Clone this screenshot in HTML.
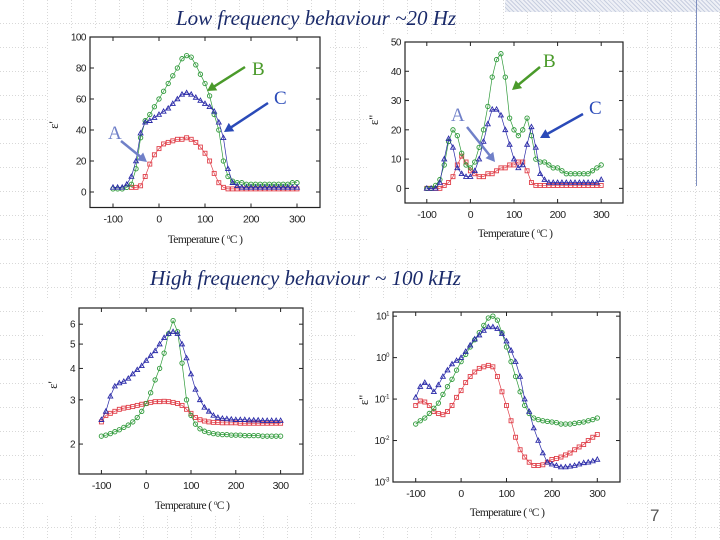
<!DOCTYPE html>
<html><head><meta charset="utf-8"><style>
html,body{margin:0;padding:0}
body{width:720px;height:540px;position:relative;overflow:hidden;background-color:#fff;
background-image:repeating-linear-gradient(90deg,transparent 0 23px,rgba(255,255,255,0) 23px,transparent 24px);
font-family:"Liberation Sans",sans-serif}
.title{position:absolute;font-family:"Liberation Serif",serif;font-style:italic;color:#1a2a6a;font-size:21px;white-space:nowrap}
svg{position:absolute;left:0;top:0}
</style></head><body>
<svg width="720" height="540" style="position:absolute;left:0;top:0">
<defs><pattern id="gp" width="24" height="24" patternUnits="userSpaceOnUse"><path d="M23.5 0V24M0 23.5H24" stroke="#d8d8d8" stroke-width="1" stroke-dasharray="1 2" fill="none"/></pattern></defs>
<rect width="720" height="540" fill="url(#gp)"/></svg>
<div style="position:absolute;left:505px;top:0;width:215px;height:12px;background:repeating-linear-gradient(45deg,#c8cfe0 0 1px,#eef0f6 1px 3px)"></div>
<div style="position:absolute;left:696px;top:0;width:1px;height:186px;background:#8090c0"></div>
<div style="position:absolute;left:48px;top:30px;width:282px;height:220px;background:#fff"></div>
<div style="position:absolute;left:368px;top:35px;width:258px;height:212px;background:#fff"></div>
<div style="position:absolute;left:45px;top:298px;width:262px;height:218px;background:#fff"></div>
<div style="position:absolute;left:355px;top:298px;width:272px;height:228px;background:#fff"></div>
<div class="title" style="left:176px;top:6px">Low frequency behaviour ~20 Hz</div>
<div class="title" style="left:150px;top:266px">High frequency behaviour ~ 100 kHz</div>
<div style="position:absolute;left:650px;top:506px;font-size:17px;color:#555">7</div>
<svg id="svg" width="720" height="540"></svg>
<script>
// shared temperature grid (°C)
const temps = [-100,-90,-80,-70,-60,-50,-40,-30,-20,-10,0,10,20,30,40,50,60,70,80,90,100,110,120,130,140,150,160,170,180,190,200,210,220,230,240,250,260,270,280,290,300];
const redTemps1 = temps.slice(4);
// Plot 1: low frequency eps'
const p1Green = [2,2,2,3,5,15,35,46,50,55,60,65,70,75,80,86,88,87,82,76,70,62,50,40,20,10,7,6,6,5,5,5,5,5,5,5,5,5,5,6,6];
const p1Blue  = [3,3,3,5,10,20,38,45,46,48,50,52,54,57,60,63,64,63,61,59,57,55,52,45,35,15,6,4,3,3,3,3,3,3,3,3,3,3,3,3,3];
const p1Red   = [3,3,4,10,18,24,28,31,32,33,34,34,35,34,32,29,25,20,12,6,3,2,2,2,2,2,2,2,2,2,2,2,2,2,2,2,2];
// Plot 2: low frequency eps''
const p2Green = [0,0,1,3,8,16,20,18,12,8,7,9,14,20,28,38,44,46,38,24,20,18,20,24,18,10,9,9,8,7,7,6,5,5,5,5,5,5,6,7,8];
const p2Blue  = [0,0,0,2,10,17,14,7,5,4,4,6,10,16,22,27,27,25,20,15,10,7,8,15,21,14,5,3,2,2,2,2,2,2,2,2,2,2,2,2,3];
const p2Red   = [0,0,0,0,1,2,4,8,11,9,6,5,4,4,5,5,6,7,7,8,8,9,9,6,2,1,1,1,1,1,1,1,1,1,1,1,1,1,1,1,1];
// Plot 3: high frequency eps' (log axis)
const p3Green = [2.15,2.17,2.2,2.24,2.28,2.33,2.38,2.45,2.55,2.7,2.9,3.2,3.6,4.0,4.6,5.5,6.2,5.6,4.2,3.0,2.6,2.4,2.3,2.25,2.22,2.2,2.19,2.18,2.18,2.17,2.17,2.17,2.16,2.16,2.16,2.16,2.15,2.15,2.15,2.15,2.15];
const p3Blue  = [2.5,2.7,3.1,3.4,3.5,3.55,3.65,3.8,3.95,4.1,4.3,4.5,4.7,5.0,5.3,5.5,5.6,5.5,5.0,4.4,3.8,3.3,3.0,2.8,2.7,2.6,2.55,2.53,2.52,2.51,2.5,2.5,2.5,2.49,2.49,2.49,2.48,2.48,2.48,2.48,2.48];
const p3Red   = [2.45,2.6,2.65,2.7,2.75,2.78,2.8,2.82,2.85,2.88,2.9,2.93,2.95,2.95,2.96,2.95,2.93,2.9,2.85,2.75,2.65,2.55,2.5,2.47,2.45,2.44,2.44,2.43,2.43,2.43,2.43,2.42,2.42,2.42,2.42,2.42,2.42,2.42,2.42,2.42,2.42];
// Plot 4: high frequency eps'' (log axis)
const p4Green = [0.025,0.03,0.035,0.045,0.06,0.08,0.13,0.2,0.3,0.5,0.8,1.2,1.8,2.7,4,6,9,10,8,4,1.8,0.8,0.35,0.15,0.07,0.045,0.035,0.032,0.03,0.029,0.028,0.027,0.025,0.025,0.025,0.026,0.027,0.028,0.03,0.032,0.035];
const p4Blue  = [0.11,0.2,0.25,0.2,0.15,0.22,0.35,0.5,0.7,0.85,1.0,1.4,2,2.8,3.5,4.5,5.5,5.5,5,3.8,2.5,1.5,0.8,0.35,0.1,0.05,0.02,0.01,0.005,0.003,0.0027,0.0025,0.0023,0.0023,0.0024,0.0025,0.0027,0.0029,0.003,0.0032,0.0035];
const p4Red   = [0.07,0.09,0.085,0.07,0.05,0.045,0.042,0.05,0.07,0.11,0.16,0.25,0.35,0.45,0.55,0.6,0.65,0.6,0.35,0.15,0.07,0.03,0.012,0.006,0.004,0.003,0.0025,0.0025,0.0026,0.003,0.0035,0.0037,0.004,0.0045,0.005,0.006,0.007,0.008,0.01,0.012,0.014];
const xTicks = [-100,0,100,200,300];
const p1YTicks = [0,20,40,60,80,100];
const p2YTicks = [0,10,20,30,40,50];
const p3YTicks = [2,3,4,5,6];
const p4YTicks = [10,1,0.1,0.01,0.001];
const p4YLabels = ["1","0","-1","-2","-3"];

const NS="http://www.w3.org/2000/svg", svg=document.getElementById('svg');
function mk(tag,attrs,parent){const e=document.createElementNS(NS,tag);for(const k in attrs)e.setAttribute(k,attrs[k]);(parent||svg).appendChild(e);return e;}
const COL={red:'#e0404a',green:'#2f9a3a',blue:'#2a2aa8'};

function plot(cfg){
  const g=mk('g',{});
  
  
  const X=v=>cfg.x0+(v-cfg.xmin)*(cfg.x1-cfg.x0)/(cfg.xmax-cfg.xmin);
  const f=cfg.log?Math.log10:(v=>v);
  const Y=v=>cfg.yb-(f(v)-f(cfg.ymin))*(cfg.yb-cfg.yt)/(f(cfg.ymax)-f(cfg.ymin));
  const fr=mk('rect',{x:cfg.x0,y:cfg.yt,width:cfg.x1-cfg.x0,height:cfg.yb-cfg.yt,fill:'none',stroke:'#222','stroke-width':1.2},g);
  
  
  xTicks.forEach(t=>{
    const x=X(t);
    mk('line',{x1:x,x2:x,y1:cfg.yb,y2:cfg.yb-4,stroke:'#222'},g);
    mk('line',{x1:x,x2:x,y1:cfg.yt,y2:cfg.yt+4,stroke:'#222'},g);
    const tx=mk('text',{x:x,y:cfg.yb+15,'font-size':10.5,'text-anchor':'middle',fill:'#222','letter-spacing':'-0.5'},g);
    tx.textContent=t;
    
    
  });
  cfg.yticks.forEach((t,i)=>{
    const y=Y(t);
    mk('line',{x1:cfg.x0,x2:cfg.x0+4,y1:y,y2:y,stroke:'#222'},g);
    mk('line',{x1:cfg.x1,x2:cfg.x1-4,y1:y,y2:y,stroke:'#222'},g);
    const tx=mk('text',{x:cfg.x0-4,y:y+3.5,'font-size':10,'text-anchor':'end',fill:'#222','letter-spacing':'-0.5'},g);
    if(cfg.ylabels){tx.textContent='10';const s=mk('tspan',{dy:-4,'font-size':6},tx);s.textContent=cfg.ylabels[i];}
    else tx.textContent=t;
    
    
  });
  const xl=mk('text',{x:cfg.xlx,y:cfg.xly,'font-size':11.5,'text-anchor':'middle',fill:'#222','font-family':'Liberation Serif, serif','letter-spacing':'-0.6'},g);
  xl.textContent='Temperature ( ';const sp=mk('tspan',{dy:-4,'font-size':7},xl);sp.textContent='o';const sp2=mk('tspan',{dy:4},xl);sp2.textContent='C )';
  
  
  const yl=mk('text',{x:cfg.ylx,y:cfg.yly,'font-size':13,'text-anchor':'middle',fill:'#222','font-family':'Liberation Serif, serif',transform:`rotate(-90 ${cfg.ylx} ${cfg.yly})`},g);
  yl.textContent=cfg.ytitle;
  
  
  cfg.series.forEach(s=>{
    const xs=s.t, ys=s.v;
    const pts=xs.map((t,i)=>[X(t),Y(ys[i])]);
    const pl=mk('polyline',{points:pts.map(p=>p.join(',')).join(' '),fill:'none',stroke:COL[s.c],'stroke-width':0.7},g);
    
    
    pts.forEach(p=>{
      let m;
      if(s.m==='sq') m=mk('rect',{x:p[0]-2,y:p[1]-2,width:4,height:4,fill:'none',stroke:COL[s.c],'stroke-width':0.9},g);
      else if(s.m==='ci') m=mk('circle',{cx:p[0],cy:p[1],r:2.2,fill:'none',stroke:COL[s.c],'stroke-width':0.9},g);
      else m=mk('polygon',{points:`${p[0]},${p[1]-2.5} ${p[0]-2.4},${p[1]+1.8} ${p[0]+2.4},${p[1]+1.8}`,fill:'none',stroke:COL[s.c],'stroke-width':0.9},g);
      
      
    });
  });
}
function ser(r,gr,b,rt){return [{t:rt||temps,v:r,c:'red',m:'sq',n:'sample-a'},{t:temps,v:gr,c:'green',m:'ci',n:'sample-b'},{t:temps,v:b,c:'blue',m:'tr',n:'sample-c'}];}

plot({name:'low-freq-real-chart',x0:90,x1:320,xmin:-150,xmax:350,yt:37,yb:207.5,ymin:-10,ymax:100,yticks:p1YTicks,xlx:205,xly:243,ylx:58,yly:125,ytitle:"ε'",series:ser(p1Red,p1Green,p1Blue,redTemps1)});
plot({name:'low-freq-imag-chart',x0:405,x1:623,xmin:-150,xmax:350,yt:42,yb:203,ymin:-5,ymax:50,yticks:p2YTicks,xlx:515,xly:237,ylx:378,yly:120,ytitle:"ε''",series:ser(p2Red,p2Green,p2Blue)});
plot({name:'high-freq-real-chart',x0:79,x1:303,xmin:-150,xmax:350,yt:308,yb:474,ymin:1.52,ymax:6.96,log:true,yticks:p3YTicks,xlx:192,xly:509,ylx:57,yly:385,ytitle:"ε'",series:ser(p3Red,p3Green,p3Blue)});
plot({name:'high-freq-imag-chart',x0:393,x1:620,xmin:-150,xmax:350,yt:312,yb:482,ymin:0.001,ymax:12.6,log:true,yticks:p4YTicks,ylabels:p4YLabels,xlx:507,xly:516,ylx:368,yly:400,ytitle:"ε''",series:ser(p4Red,p4Green,p4Blue)});

function ann(label,col,lx,ly,x1,y1,x2,y2){
  const t=mk('text',{x:lx,y:ly,'font-size':19,fill:col,'font-family':'Liberation Serif, serif'});
  t.textContent=label;
  
  
  const a=Math.atan2(y2-y1,x2-x1),h=9;
  const l=mk('line',{x1:x1,y1:y1,x2:x2-Math.cos(a)*h*0.8,y2:y2-Math.sin(a)*h*0.8,stroke:col,'stroke-width':2.5});
  
  
  const p=mk('polygon',{points:`${x2},${y2} ${x2-h*Math.cos(a)+5*Math.sin(a)},${y2-h*Math.sin(a)-5*Math.cos(a)} ${x2-h*Math.cos(a)-5*Math.sin(a)},${y2-h*Math.sin(a)+5*Math.cos(a)}`,fill:col});
  
  
}
ann('B','#4a9a2a',252,75,245,67,207,91);
ann('C','#2a4ab8',274,104,268,103,224,132);
ann('A','#7080c8',108,139,121,141,147,162);
ann('B','#4a9a2a',543,67,540,67,512,90);
ann('A','#7080c8',451,121,467,127,495,162);
ann('C','#2a4ab8',589,114,583,114,540,138);
</script>
</body></html>
